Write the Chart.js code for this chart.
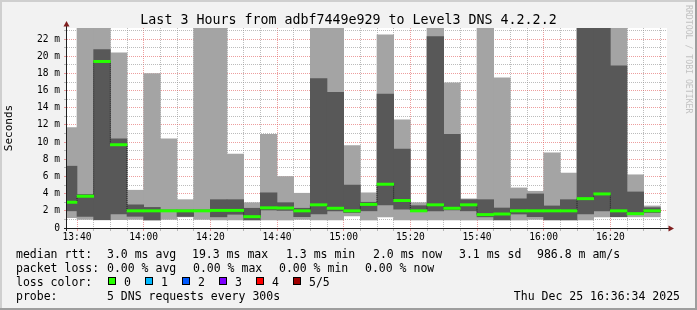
<!DOCTYPE html>
<html>
<head>
<meta charset="utf-8">
<script src="https://cdn.jsdelivr.net/npm/chart.js@4/dist/chart.umd.min.js"></script>
<style>
  html, body { margin: 0; padding: 0; background: #f2f2f2; }
  #wrap { width: 697px; height: 310px; }
</style>
</head>
<body>
<div id="wrap"><canvas id="graph" width="697" height="310"></canvas></div>
<script>
// 5 minute steps, start time of each step (first one is cut by the left edge)
const slots = ["13:35", "13:40", "13:45", "13:50", "13:55",
  "14:00", "14:05", "14:10", "14:15", "14:20", "14:25", "14:30", "14:35", "14:40", "14:45", "14:50", "14:55",
  "15:00", "15:05", "15:10", "15:15", "15:20", "15:25", "15:30", "15:35", "15:40", "15:45", "15:50", "15:55",
  "16:00", "16:05", "16:10", "16:15", "16:20", "16:25", "16:30"];

// sorted pings per step, in ms (25 = off the top of the graph)
const pingMin = [1.2, 1.0, 0.95, 0.97, 1.0, 0.9, 1.0, 1.3, 1.0, 0.95, 0.93, 0.93, 0.93, 0.93, 1.0, 0.93, 0.93, 1.4,
  0.93, 1.3, 0.93, 0.93, 0.93, 0.93, 0.93, 0.93, 0.93, 0.93, 1.0, 0.93, 0.93, 0.93, 1.3, 1.3, 1.3, 1.3];
const ping2 = [2.0, 1.35, 0.97, 1.63, 1.36, 0.95, 1.9, 1.35, 1.9, 1.3, 1.6, 0.95, 2.1, 2.05, 1.32, 1.63, 2.0, 1.8,
  2.0, 2.7, 2.2, 1.9, 2.0, 2.1, 2.0, 1.3, 0.95, 1.63, 1.32, 0.95, 0.95, 1.63, 2.0, 1.32, 1.6, 1.8];
const medianRtt = [3.0, 3.7, 19.4, 9.7, 2.0, 2.0, 2.0, 2.0, 2.0, 2.05, 2.05, 1.32, 2.35, 2.33, 2.0, 2.7, 2.3, 2.0,
  2.75, 5.1, 3.2, 2.0, 2.7, 2.3, 2.7, 1.56, 1.63, 2.0, 2.0, 2.0, 2.0, 3.42, 3.97, 2.0, 1.67, 2.0];
const ping4 = [7.2, 3.9, 20.8, 10.4, 2.7, 2.4, 2.1, 2.1, 2.1, 3.3, 3.3, 2.3, 4.1, 2.95, 2.3, 17.4, 15.8, 5.0,
  3.0, 15.6, 9.2, 2.6, 22.3, 10.9, 3.3, 3.3, 2.33, 3.4, 3.97, 2.57, 3.3, 25, 25, 18.9, 4.2, 2.37];
const pingMax = [11.7, 25, 25, 20.4, 4.4, 18.0, 10.4, 3.3, 25, 25, 8.6, 2.95, 10.9, 6.0, 4.05, 25, 25, 9.6,
  4.1, 22.5, 12.6, 2.95, 25, 16.9, 3.4, 25, 17.5, 4.67, 4.28, 8.75, 6.4, 25, 25, 25, 6.2, 2.57];

const xTickLabels = ["13:40", "14:00", "14:20", "14:40", "15:00", "15:20", "15:40", "16:00", "16:20"];
const yTickLabels = ["0", "2 m", "4 m", "6 m", "8 m", "10 m", "12 m", "14 m", "16 m", "18 m", "20 m", "22 m"];

const chartTitle = "Last 3 Hours from adbf7449e929 to Level3 DNS 4.2.2.2";
const rttStats = ["3.0 ms avg", "19.3 ms max", "1.3 ms min", "2.0 ms now", "3.1 ms sd", "986.8 m am/s"];
const lossStats = ["0.00 % avg", "0.00 % max", "0.00 % min", "0.00 % now"];
const lossLabels = ["0", "1", "2", "3", "4", "5/5"];
const lossColors = ["#26ff00", "#00b8ff", "#0059ff", "#7e00ff", "#ff0000", "#a00000"];
const probeText = "5 DNS requests every 300s";
const stampText = "Thu Dec 25 16:36:34 2025";

const t0 = 13 * 60 + 37; // left edge of the graph
const minuteOf = (s) => { const [h, m] = s.split(":").map(Number); return h * 60 + m - t0; };
const mono = '"DejaVu Sans Mono", monospace';

const xGrid = [];
for (let m = 3; m <= 178; m += 5) xGrid.push(m);
const yGrid = [];
for (let v = 0; v <= 23; v++) yGrid.push(v);

const majorCol = "rgba(222,79,79,0.55)";
const minorCol = "rgba(143,143,143,0.6)";

const rrdDecor = {
  id: "rrdDecor",
  beforeDraw(chart) {
    const { ctx, chartArea: a, width, height } = chart;
    ctx.save();
    ctx.fillStyle = "#f2f2f2";
    ctx.fillRect(0, 0, width, height);
    ctx.fillStyle = "#cfcfcf";
    ctx.fillRect(0, 0, width, 2);
    ctx.fillRect(0, 0, 2, height);
    ctx.fillStyle = "#9e9e9e";
    ctx.fillRect(0, height - 2, width, 2);
    ctx.fillRect(width - 2, 0, 2, height);
    ctx.fillStyle = "#ffffff";
    ctx.fillRect(a.left, a.top, a.right - a.left, a.bottom - a.top);
    ctx.restore();
  },
  afterDraw(chart) {
    const { ctx, chartArea: a } = chart;
    ctx.save();
    // axes
    ctx.strokeStyle = "#1f1f1f";
    ctx.lineWidth = 1;
    ctx.beginPath();
    ctx.moveTo(a.left - 3, a.bottom + 0.5);
    ctx.lineTo(a.right + 3, a.bottom + 0.5);
    ctx.moveTo(a.left - 0.5, a.bottom + 3);
    ctx.lineTo(a.left - 0.5, a.top - 2);
    ctx.stroke();
    ctx.fillStyle = "#801f1f";
    ctx.beginPath(); // up arrow
    ctx.moveTo(a.left - 0.5, a.top - 7);
    ctx.lineTo(a.left - 3.5, a.top - 1.5);
    ctx.lineTo(a.left + 2.5, a.top - 1.5);
    ctx.fill();
    ctx.beginPath(); // right arrow
    ctx.moveTo(a.right + 7, a.bottom + 0.5);
    ctx.lineTo(a.right + 1.5, a.bottom - 2.5);
    ctx.lineTo(a.right + 1.5, a.bottom + 3.5);
    ctx.fill();

    // title
    ctx.fillStyle = "#000";
    ctx.font = "13.3px " + mono;
    ctx.textAlign = "center";
    ctx.textBaseline = "alphabetic";
    ctx.fillText(chartTitle, chart.width / 2, 24);

    // legend block
    ctx.font = "11.5px " + mono;
    ctx.textAlign = "left";
    const rttX = [107, 192, 286, 373, 459, 537];
    const lossX = [107, 193, 279, 365];
    ctx.fillText("median rtt:", 16, 258);
    rttStats.forEach((s, i) => ctx.fillText(s, rttX[i], 258));
    ctx.fillText("packet loss:", 16, 272);
    lossStats.forEach((s, i) => ctx.fillText(s, lossX[i], 272));
    ctx.fillText("loss color:", 16, 286);
    lossLabels.forEach((l, i) => {
      const bx = Math.round(108 + 37 * i);
      ctx.fillStyle = lossColors[i];
      ctx.fillRect(bx, 277, 8, 8);
      ctx.strokeStyle = "#000";
      ctx.strokeRect(bx + 0.5, 277.5, 7, 7);
      ctx.fillStyle = "#000";
      ctx.fillText(l, bx + 16, 286);
    });
    ctx.fillText("probe:", 16, 300);
    ctx.fillText(probeText, 107, 300);
    ctx.textAlign = "right";
    ctx.fillText(stampText, 680, 300);

    // watermark
    ctx.translate(688, 5);
    ctx.rotate(Math.PI / 2);
    ctx.font = "8.2px " + mono;
    ctx.fillStyle = "#c2c2c2";
    ctx.textAlign = "left";
    ctx.textBaseline = "middle";
    ctx.fillText("RRDTOOL / TOBI OETIKER", 0, 0);
    ctx.restore();
  }
};

const ctx = document.getElementById("graph").getContext("2d");
const barPoints = (lo, hi) => slots.map((s, i) => ({ x: minuteOf(s) + 2.5, y: [lo[i], hi[i]] }));
const medLo = medianRtt.map(v => v - 0.135);
const medHi = medianRtt.map(v => v + 0.135);
const medLine = slots.map((s, i) => ({ x: minuteOf(s), y: medianRtt[i] }));
medLine.push({ x: minuteOf(slots[slots.length - 1]) + 5, y: medianRtt[medianRtt.length - 1] });

new Chart(ctx, {
  type: "bar",
  data: {
    datasets: [
      { data: barPoints(pingMin, pingMax), backgroundColor: "#a4a4a4", grouped: false, order: 4, clip: 0,
        barPercentage: 1, categoryPercentage: 1, borderWidth: 0 },
      { data: barPoints(ping2, ping4), backgroundColor: "#585858", grouped: false, order: 3, clip: 0,
        barPercentage: 1, categoryPercentage: 1, borderWidth: 0 },
      { type: "line", data: medLine, stepped: true, borderColor: "#202020", borderWidth: 1,
        borderDash: [1, 1], pointRadius: 0, fill: false, order: 2, clip: 0 },
      { data: barPoints(medLo, medHi), backgroundColor: "#26ff00", grouped: false, order: 1, clip: 0,
        barPercentage: 1, categoryPercentage: 1, borderWidth: 0 }
    ]
  },
  options: {
    responsive: false,
    animation: false,
    devicePixelRatio: 1,
    layout: { padding: { left: 0, top: 28, right: 30, bottom: 62 } },
    plugins: { legend: { display: false }, tooltip: { enabled: false }, title: { display: false } },
    scales: {
      x: {
        type: "linear", min: 0, max: 180, offset: false, z: 1,
        afterBuildTicks: (s) => { s.ticks = xGrid.map(v => ({ value: v })); },
        afterFit: (s) => { s.height = 20; },
        grid: {
          offset: false, tickLength: 3,
          color: (c) => ((c.tick.value - 3) % 20 === 0 ? majorCol : minorCol),
          tickColor: (c) => ((c.tick.value - 3) % 20 === 0 ? majorCol : minorCol)
        },
        border: { display: false, dash: [1, 1] },
        ticks: {
          autoSkip: false, maxRotation: 0, minRotation: 0, padding: 1, color: "#000",
          font: { family: mono, size: 9.6 },
          callback: (v) => ((v - 3) % 20 === 0 ? xTickLabels[(v - 3) / 20] : "")
        }
      },
      y: {
        type: "linear", min: 0, max: 23.3, z: 1,
        afterBuildTicks: (s) => { s.ticks = yGrid.map(v => ({ value: v })); },
        afterFit: (s) => { s.width = 67; },
        grid: {
          tickLength: 3,
          color: (c) => (c.tick.value % 2 === 0 ? majorCol : minorCol),
          tickColor: (c) => (c.tick.value % 2 === 0 ? majorCol : minorCol)
        },
        border: { display: false, dash: [1, 1] },
        ticks: {
          autoSkip: false, padding: 4, color: "#000",
          font: { family: mono, size: 9.6 },
          callback: (v) => (v % 2 === 0 ? yTickLabels[v / 2] : "")
        },
        title: {
          display: true, text: "Seconds", color: "#000",
          font: { family: mono, size: 11 },
          padding: { top: 3, bottom: 0 }
        }
      }
    }
  },
  plugins: [rrdDecor]
});
</script>
</body>
</html>
